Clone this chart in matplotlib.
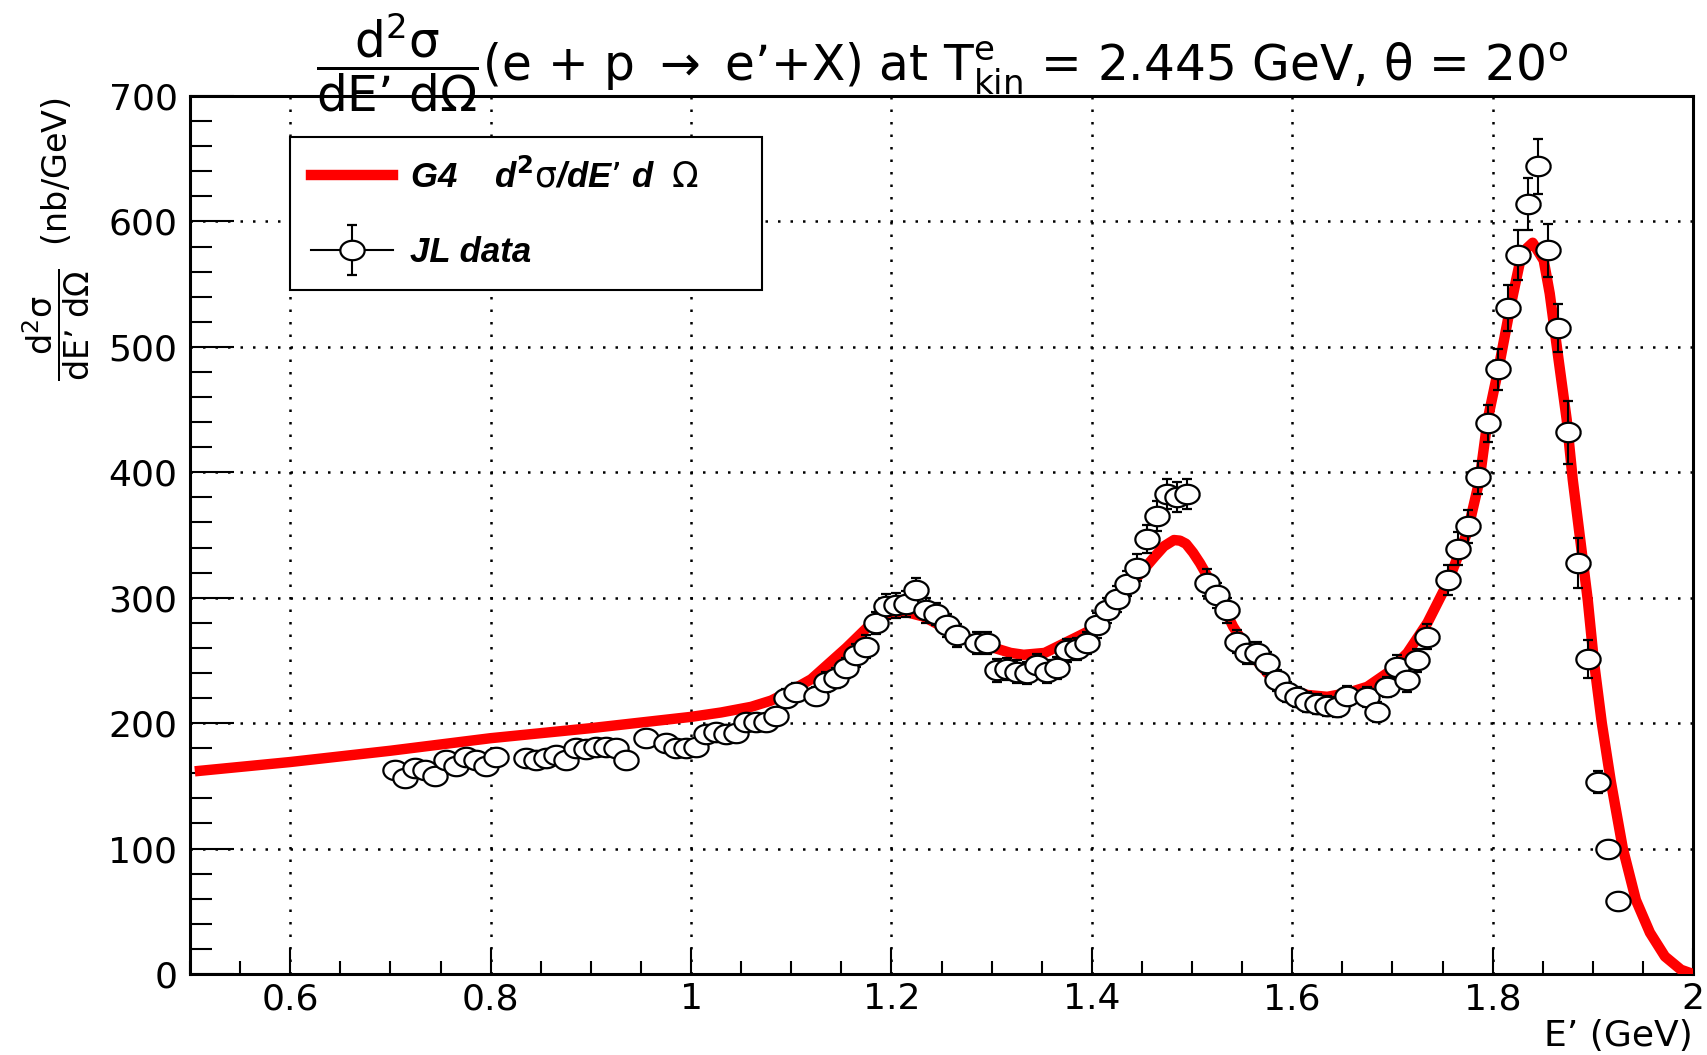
import numpy as np
import matplotlib
matplotlib.use('Agg')
import matplotlib.pyplot as plt
from matplotlib.path import Path
from matplotlib.lines import Line2D
from matplotlib.container import ErrorbarContainer
from matplotlib.legend_handler import HandlerErrorbar, HandlerTuple
from matplotlib.font_manager import FontProperties
from matplotlib.ticker import MultipleLocator, FuncFormatter

plt.rcParams['font.family'] = 'DejaVu Sans'
plt.rcParams['mathtext.fontset'] = 'dejavusans'

# G4 d2sigma/dE'dOmega curve (E' in GeV, nb/GeV)
g4_e = [0.51, 0.6, 0.7, 0.8, 0.9, 1.0, 1.03, 1.06, 1.08, 1.10, 1.12, 1.155, 1.182, 1.202,
        1.215, 1.232, 1.253, 1.286, 1.319, 1.332, 1.353, 1.386, 1.406, 1.418,
        1.44, 1.463, 1.472, 1.482, 1.488, 1.494, 1.501, 1.508, 1.525, 1.541, 1.558,
        1.575, 1.594,
        1.615, 1.635, 1.655, 1.675, 1.695, 1.715, 1.735, 1.755, 1.775, 1.787,
        1.795, 1.807, 1.817, 1.827, 1.834, 1.840, 1.851, 1.857, 1.865, 1.874,
        1.880, 1.895, 1.901, 1.909, 1.918, 1.930, 1.943, 1.957, 1.972, 1.988, 2.0]
g4_xs = [162, 169, 178, 188, 196, 205, 208.5, 213, 218, 226, 235, 260, 281, 288,
         288.5, 285, 276, 264, 256, 254.5, 256, 269, 277, 290,
         311.5, 333, 341, 346, 345.5, 343, 336, 327.5, 303.6, 277, 256,
         240, 228,
         222.5, 221, 224, 229, 240, 256, 280, 311.6, 352.7, 394,
         441.7, 487, 529, 566.5, 578.5, 583, 569, 542.6, 494.8, 441.7,
         394, 298, 250, 200, 153.5, 100, 59, 33, 14, 3.4, 0]

# JL data
jl_e = [0.705, 0.715, 0.725, 0.735, 0.745, 0.755, 0.765, 0.775, 0.785, 0.795, 0.805,
        0.835, 0.845, 0.855, 0.865, 0.875, 0.885, 0.895, 0.905, 0.915, 0.925, 0.935,
        0.955, 0.975, 0.985, 0.995, 1.005, 1.015, 1.025, 1.035, 1.045, 1.055, 1.065,
        1.075, 1.085, 1.095, 1.105,
        1.125, 1.135, 1.145, 1.155, 1.165, 1.175, 1.185, 1.195, 1.205, 1.215, 1.225,
        1.235, 1.245, 1.255, 1.265,
        1.285, 1.295, 1.305, 1.315, 1.325, 1.335, 1.345, 1.355, 1.365, 1.375, 1.385,
        1.395, 1.405, 1.415, 1.425, 1.435, 1.445, 1.455, 1.465, 1.475, 1.485, 1.495,
        1.515, 1.525, 1.535, 1.545, 1.555, 1.565, 1.575, 1.585, 1.595, 1.605, 1.615,
        1.625, 1.635, 1.645, 1.655,
        1.675, 1.685, 1.695, 1.705, 1.715, 1.725, 1.735,
        1.755, 1.765, 1.775, 1.785, 1.795, 1.805, 1.815, 1.825, 1.835, 1.845, 1.855,
        1.865, 1.875, 1.885, 1.895, 1.905, 1.915, 1.925]
jl_xs = [163, 156, 164, 163, 158, 171, 166, 173, 171, 166, 173,
         172, 171, 172, 175, 171, 180, 179, 181, 181, 180, 171,
         188, 184, 180, 180, 181, 191, 193, 191, 192, 201, 201,
         201, 206, 220, 225,
         222, 233, 236, 244, 254, 261, 280, 293, 294, 295, 306,
         290, 287, 278, 270,
         264, 264, 242, 243, 241, 240, 246, 241, 244, 258, 259,
         264, 278, 290, 299, 311, 324, 347, 365, 383, 380, 383,
         312, 302, 290, 265, 256, 256, 248, 234, 225, 221, 217,
         215, 214, 213, 222,
         221, 209, 229, 245, 234, 250, 269,
         314, 339, 357, 396, 439, 482, 531, 573, 614, 644, 577,
         515, 432, 328, 251, 153, 100, 58]
jl_err = [5, 5, 5, 5, 5, 5, 5, 5, 5, 5, 5,
          5, 5, 5, 5, 5, 5, 5, 5, 5, 5, 5,
          5, 5, 5, 5, 5, 5, 5, 5, 5, 5, 5,
          5, 5, 7, 7,
          7, 8, 8, 8, 9, 9, 9, 10, 10, 10, 10,
          10, 9, 9, 9,
          9, 9, 9, 9, 9, 9, 9, 9, 9, 9, 9,
          9, 10, 10, 10, 10, 11, 11, 12, 12, 12, 12,
          11, 10, 10, 9, 9, 9, 9, 8, 8, 8, 8,
          8, 8, 8, 8,
          8, 8, 8, 9, 9, 9, 10,
          12, 13, 13, 13, 15, 16, 18, 20, 21, 22, 21,
          19, 25, 20, 15, 9, 4, 3]

fig = plt.figure(figsize=(17.07, 10.55), dpi=100)
ax = fig.add_axes([190/1707, 1-974/1055, 1503/1707, 878/1055])

# open ellipse marker (picture is a bit stretched horizontally)
t = np.linspace(0, 2*np.pi, 61)
ell = Path(np.column_stack([np.cos(t), 0.8*np.sin(t)]))

ax.plot(g4_e, g4_xs, color='red', lw=7.5, zorder=3, solid_joinstyle='round')
eb = ax.errorbar(jl_e, jl_xs, yerr=jl_err, ls='none', marker=ell, ms=17.5,
                 mfc='white', mec='black', mew=1.6, ecolor='black',
                 elinewidth=1.5, capsize=3.5, capthick=1.5, zorder=4)

ax.set_xlim(0.5, 2.0)
ax.set_ylim(0, 700)
ax.xaxis.set_major_locator(MultipleLocator(0.2))
ax.xaxis.set_minor_locator(MultipleLocator(0.05))
ax.yaxis.set_major_locator(MultipleLocator(100))
ax.yaxis.set_minor_locator(MultipleLocator(20))
ax.xaxis.set_major_formatter(FuncFormatter(lambda v, p: '%g' % round(v, 3)))
ax.grid(True, which='major', color='black', ls=(0, (1, 4)), lw=1.8)
ax.set_axisbelow(True)

ax.tick_params(which='both', direction='in', top=False, right=False, width=1.5, labelsize=26)
ax.tick_params(axis='x', which='major', length=18.7, pad=6)
ax.tick_params(axis='x', which='minor', length=9.4)
ax.tick_params(axis='y', which='major', length=32, pad=9)
ax.tick_params(axis='y', which='minor', length=16)
for s in ax.spines.values():
    s.set_linewidth(2.2)

ax.set_xlabel('E’ (GeV)', fontsize=26, loc='right', labelpad=2)
fig.text(56/1707, 1-97/1055, r'$\dfrac{\mathrm{d^{2}σ}}{\mathrm{dE’\ dΩ}}$  (nb/GeV)',
         rotation=90, ha='center', va='top', fontsize=24)

title = (r'$\dfrac{\mathrm{d^{2}σ}}{\mathrm{dE’\ dΩ}}$(e + p $\rightarrow$ e’+X) at '
         r'T$^{\mathrm{e}}_{\mathrm{kin}}$ = 2.445 GeV, θ = 20$^{\mathrm{o}}$')
fig.text(942/1707, 1-80/1055, title, ha='center', va='baseline', fontsize=35)

# legend
h_g4 = Line2D([], [], color='red', lw=7.5)
h_jl = (Line2D([], [], color='black', lw=1.5), eb)
leg = ax.legend([h_g4, h_jl],
                [r'G4    d$^{\mathbf{2}}\mathrm{σ}$/dE’ d  $\mathrm{Ω}$', 'JL data'],
                loc='upper left',
                bbox_to_anchor=(290/1707, 1-301/1055, 472/1707, 164/1055),
                bbox_transform=fig.transFigure, mode='expand',
                prop=FontProperties(family='Liberation Sans', weight='bold',
                                    style='italic', size=25),
                frameon=True, fancybox=False, framealpha=1, edgecolor='black',
                handlelength=2.36, handletextpad=0.5, borderpad=0.6,
                labelspacing=1.2, borderaxespad=0,
                handler_map={ErrorbarContainer: HandlerErrorbar(yerr_size=0.72),
                             tuple: HandlerTuple(ndivide=1)})
leg.get_frame().set_linewidth(1.5)

fig.savefig('out.png', dpi=100)
